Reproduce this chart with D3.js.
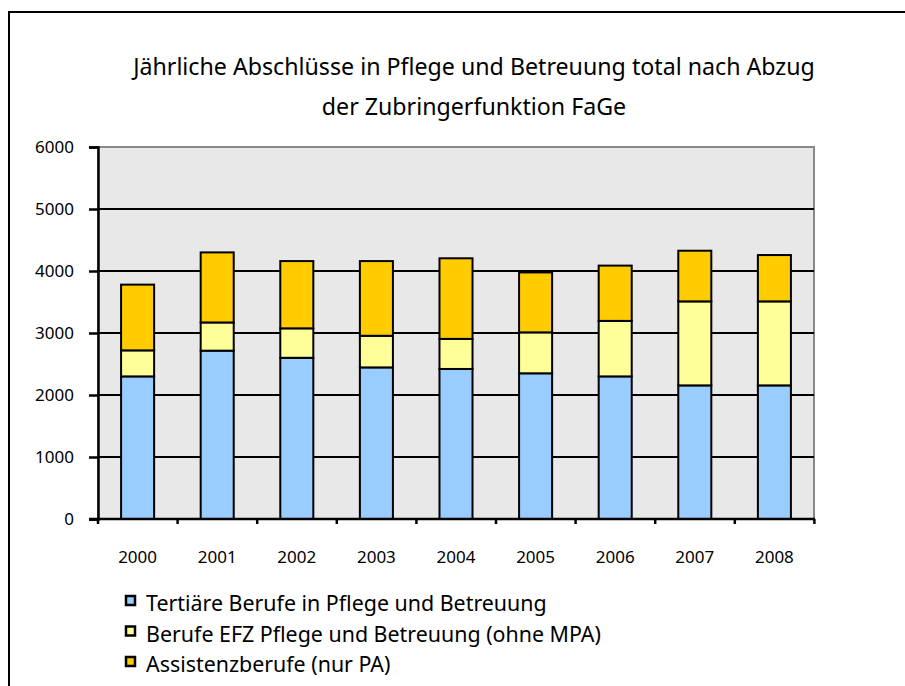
<!DOCTYPE html>
<html>
<head>
<meta charset="utf-8">
<script src="https://cdn.jsdelivr.net/npm/d3@7"></script>
<style>
  body { margin: 0; background: #fff; }
  svg { font-family: "Noto Sans", "Open Sans", sans-serif; }
</style>
</head>
<body>
<svg width="905" height="686"></svg>
<script>
// Data
var years = ["2000", "2001", "2002", "2003", "2004", "2005", "2006", "2007", "2008"];
var tertiaer = [2300, 2715, 2600, 2445, 2420, 2350, 2300, 2155, 2155];
var efz = [420, 455, 475, 510, 485, 660, 895, 1355, 1355];
var assistenz = [1060, 1130, 1085, 1205, 1300, 967, 892, 817, 747];
var seriesNames = ["Tertiäre Berufe in Pflege und Betreuung",
                   "Berufe EFZ Pflege und Betreuung (ohne MPA)",
                   "Assistenzberufe (nur PA)"];
var seriesColors = ["#99ccff", "#ffff99", "#ffcc00"];
var yTicks = [0, 1000, 2000, 3000, 4000, 5000, 6000];
var titleLines = ["Jährliche Abschlüsse in Pflege und Betreuung total nach Abzug",
                  "der Zubringerfunktion FaGe"];

var plotLeft = 98, plotRight = 814, plotTop = 147, plotBottom = 519;

var svg = d3.select("svg");

// outer frame (runs off the page at right and bottom)
svg.append("rect")
    .attr("x", 9).attr("y", 12)
    .attr("width", 920).attr("height", 700)
    .attr("fill", "none").attr("stroke", "#000").attr("stroke-width", 2);

// Title
svg.append("g").selectAll("text")
    .data(titleLines)
    .enter().append("text")
    .attr("x", 474)
    .attr("y", function(d, i) { return 75 + i * 40; })
    .attr("text-anchor", "middle")
    .style("font-size", "23.2px")
    .attr("fill", "#000")
    .text(function(d) { return d; });

// Scales
var xscale = d3.scaleBand().domain(years).range([plotLeft, plotRight]).paddingInner(0.585).paddingOuter(0.29);
var yscale = d3.scaleLinear().domain([0, 6000]).range([plotBottom, plotTop]);

// Plot area
svg.append("rect")
    .attr("x", plotLeft).attr("y", plotTop)
    .attr("width", plotRight - plotLeft).attr("height", plotBottom - plotTop)
    .attr("fill", "#e8e8e8")
    .attr("stroke", "#888").attr("stroke-width", 2);

// Gridlines
svg.append("g").selectAll("line")
    .data(yTicks.slice(1, -1))
    .enter().append("line")
    .attr("x1", plotLeft).attr("x2", plotRight)
    .attr("y1", function(d) { return yscale(d); })
    .attr("y2", function(d) { return yscale(d); })
    .attr("stroke", "#000").attr("stroke-width", 2);

// Stack
var rows = years.map(function(y, i) {
    return { year: y, a: tertiaer[i], b: efz[i], c: assistenz[i] };
});
var stack = d3.stack().keys(["a", "b", "c"])(rows);

svg.append("g").selectAll("g")
    .data(stack)
    .enter().append("g")
    .attr("fill", function(d, i) { return seriesColors[i]; })
    .selectAll("rect")
    .data(function(d) { return d; })
    .enter().append("rect")
    .attr("x", function(d) { return xscale(d.data.year); })
    .attr("width", xscale.bandwidth())
    .attr("y", function(d) { return yscale(d[1]); })
    .attr("height", function(d) { return yscale(d[0]) - yscale(d[1]); })
    .attr("stroke", "#000").attr("stroke-width", 2);

// Left axis
var yAxis = svg.append("g")
    .attr("transform", "translate(" + plotLeft + ",0)")
    .call(d3.axisLeft(yscale).tickValues(yTicks).tickSize(9).tickPadding(15).tickFormat(d3.format("d")));
yAxis.select(".domain").attr("stroke", "#000").attr("stroke-width", 2.5);
yAxis.selectAll(".tick line").attr("stroke", "#000").attr("stroke-width", 2.5);
yAxis.selectAll("text").style("font-size", "17px").attr("fill", "#000").attr("font-family", "Noto Sans");

// Bottom axis (tick marks on band boundaries)
var xAxis = svg.append("g")
    .attr("transform", "translate(0," + plotBottom + ")");
xAxis.append("line")
    .attr("x1", plotLeft - 9).attr("x2", plotRight + 1)
    .attr("stroke", "#000").attr("stroke-width", 2.5);
var step = xscale.step();
var bounds = d3.range(years.length + 1).map(function(i) { return plotLeft + i * step; });
xAxis.selectAll(".bt")
    .data(bounds)
    .enter().append("line")
    .attr("class", "bt")
    .attr("x1", function(d) { return d; }).attr("x2", function(d) { return d; })
    .attr("y1", 0).attr("y2", 5)
    .attr("stroke", "#000").attr("stroke-width", 2.5);
xAxis.selectAll("text")
    .data(years)
    .enter().append("text")
    .attr("x", function(d) { return xscale(d) + xscale.bandwidth() / 2; })
    .attr("y", 44)
    .attr("text-anchor", "middle")
    .style("font-size", "17px")
    .text(function(d) { return d; });

// Legend
var legend = svg.append("g").selectAll("g")
    .data(seriesNames)
    .enter().append("g")
    .attr("transform", function(d, i) { return "translate(126," + (596 + i * 30.5) + ")"; });
legend.append("rect")
    .attr("width", 9).attr("height", 9)
    .attr("fill", function(d, i) { return seriesColors[i]; })
    .attr("stroke", "#000").attr("stroke-width", 2.5);
legend.append("text")
    .attr("x", 20).attr("y", 15)
    .style("font-size", "21.4px")
    .text(function(d) { return d; });
</script>
</body>
</html>
